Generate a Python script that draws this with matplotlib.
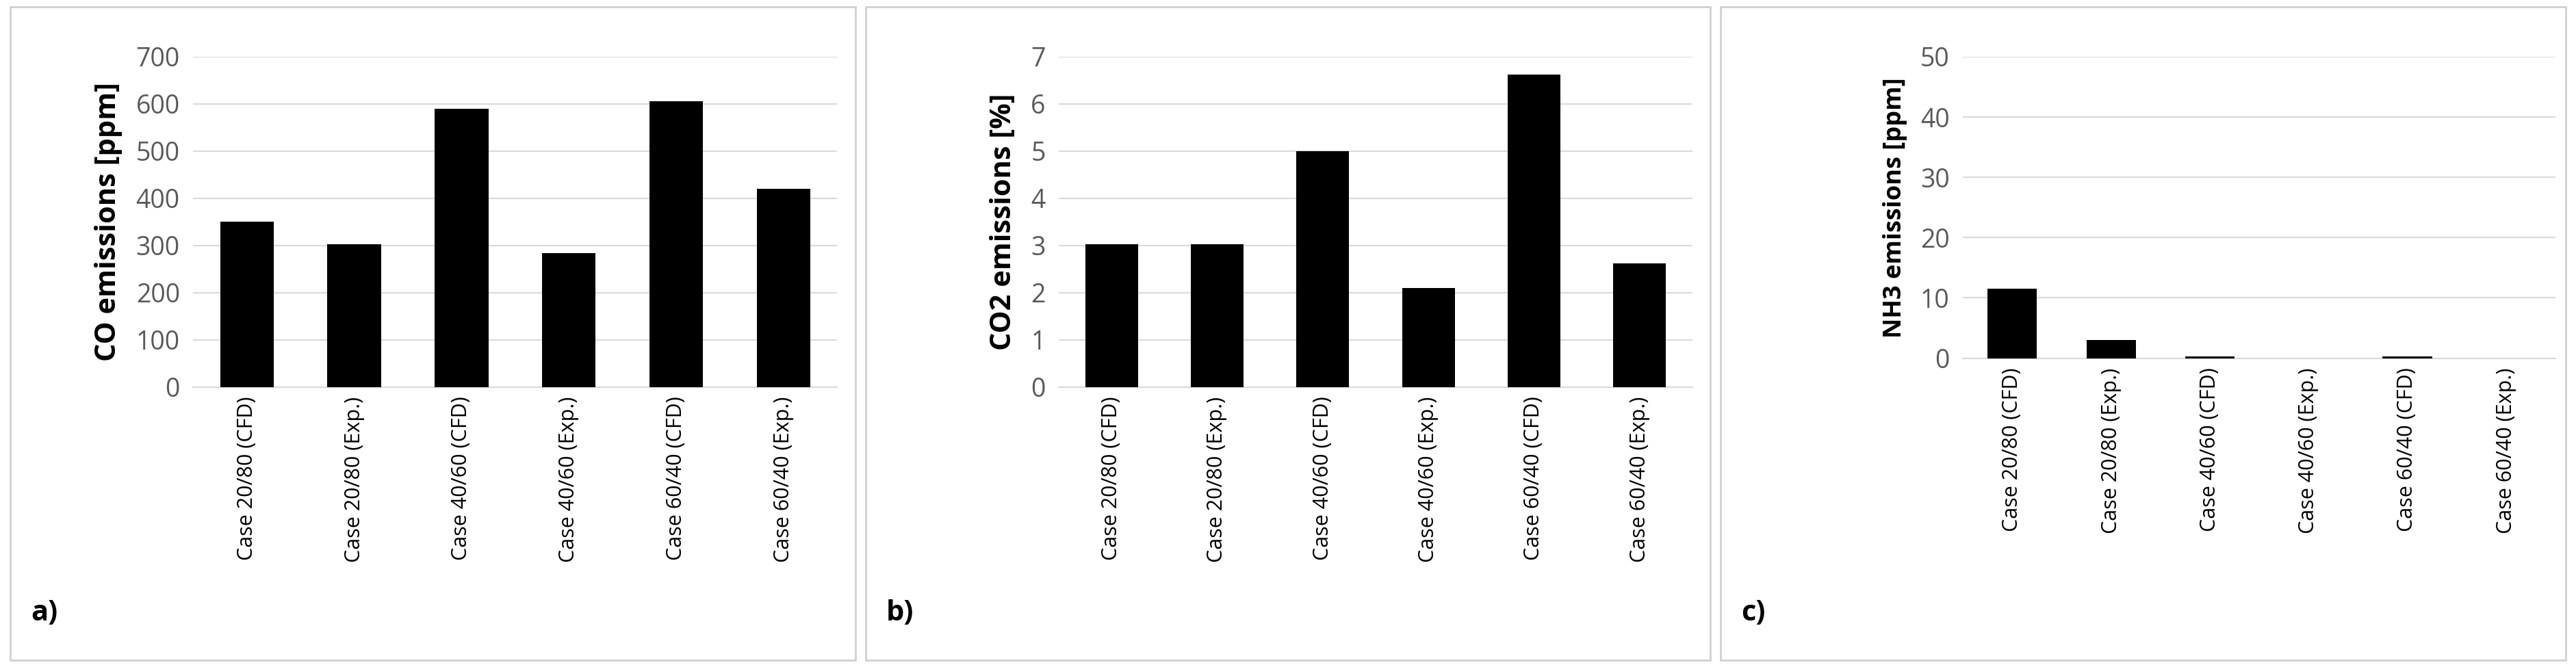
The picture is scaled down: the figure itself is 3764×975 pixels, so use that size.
#!/usr/bin/env python3
import matplotlib
matplotlib.use('Agg')
import matplotlib.pyplot as plt
from matplotlib.patches import Rectangle

plt.rcParams['font.family'] = ['Open Sans', 'DejaVu Sans']

cases = ['Case 20/80 (CFD)', 'Case 20/80 (Exp.)', 'Case 40/60 (CFD)',
         'Case 40/60 (Exp.)', 'Case 60/40 (CFD)', 'Case 60/40 (Exp.)']
co_ppm = [350, 303, 590, 283, 605, 420]
co2_pct = [3.02, 3.02, 5.0, 2.1, 6.62, 2.62]
nh3_ppm = [11.5, 3.0, 0.3, 0.0, 0.3, 0.0]

fig = plt.figure(figsize=(37.64, 9.75), dpi=100)

panels = [
    ([0.075, 0.42, 0.25, 0.495], co_ppm, 'CO emissions [ppm]', 700, 100, 'a)', 0.004, 30),
    ([0.411, 0.42, 0.246, 0.495], co2_pct, 'CO2 emissions [%]', 7, 1, 'b)', 0.336, 30),
    ([0.762, 0.463, 0.23, 0.452], nh3_ppm, 'NH3 emissions [ppm]', 50, 10, 'c)', 0.668, 26),
]

for rect, vals, ylab, ymax, step, tag, bx, ylfs in panels:
    fig.add_artist(Rectangle((bx, 0.01), 0.328, 0.98, transform=fig.transFigure,
                             fill=False, edgecolor='#d0d0d0', linewidth=2))
    ax = fig.add_axes(rect)
    ax.bar(range(len(cases)), vals, width=0.5, color='black', zorder=3)
    ax.set_ylim(0, ymax)
    ax.set_yticks([i * step for i in range(int(round(ymax / step)) + 1)])
    ax.set_xlim(-0.5, len(cases) - 0.5)
    ax.set_xticks(range(len(cases)))
    ax.set_xticklabels(cases, rotation=90, fontsize=22)
    ax.tick_params(axis='y', labelsize=27, colors='#595959', length=0, pad=14)
    ax.tick_params(axis='x', length=0, pad=10)
    ax.grid(axis='y', color='#d9d9d9', linewidth=1.5, zorder=0)
    for s in ['top', 'right', 'left']:
        ax.spines[s].set_visible(False)
    ax.spines['bottom'].set_color('#d9d9d9')
    ax.spines['bottom'].set_linewidth(1.5)
    ax.set_ylabel(ylab, fontsize=ylfs, fontweight='bold', labelpad=14)
    fig.text(bx + 0.008, 0.07, tag, fontsize=30, fontweight='bold')

fig.savefig('out.png', dpi=100)
